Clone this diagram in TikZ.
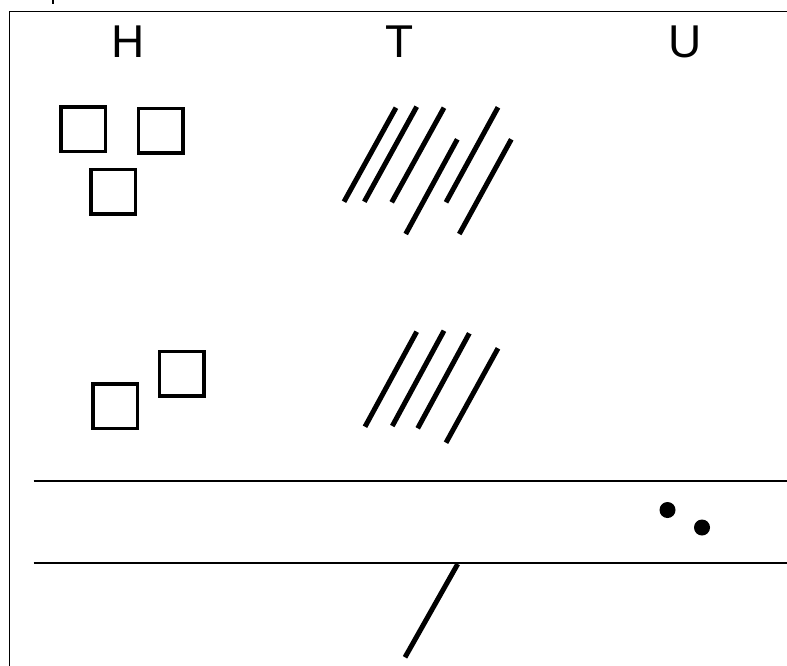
\documentclass[tikz,border=0pt]{standalone}
\usepackage{fontspec}
\setmainfont{Liberation Sans}
\begin{document}
\begin{tikzpicture}[x=1pt,y=-1pt,
  sq/.style={draw,line width=3.6pt,minimum size=44.4pt,inner sep=0pt,fill=white},
  tally/.style={line width=5pt},
  rule/.style={line width=2.5pt},
  frame/.style={line width=1.8pt},
  dot/.style={fill=black},
  head/.style={anchor=base,font=\fontsize{46}{46}\selectfont,inner sep=0pt}]
\useasboundingbox (0,0) rectangle (787,665);
% frame
\draw[frame] (9.5,680) -- (9.5,11.5) -- (800,11.5);
% cut fragment at top-left
\draw[line width=2pt] (53,-2) -- (53,4);
% headers
\node[head] (hH) at (127.7,57) {H};
\node[head] (hT) at (400,57) {T};
\node[head] (hU) at (685,57) {U};
% squares
\node[sq] (s1) at (83.3,129.2) {};
\node[sq] (s2) at (160.8,130.8) {};
\node[sq] (s3) at (113.2,191.5) {};
\node[sq] (s4) at (115.2,406.2) {};
\node[sq] (s5) at (181.8,373.8) {};
% tallies upper
\draw[tally] (396,107.7) -- (344,201.7);
\draw[tally] (416.7,106.7) -- (364.3,201.7);
\draw[tally] (444,107.7) -- (391.7,202.3);
\draw[tally] (457.3,139.3) -- (405.7,234);
\draw[tally] (498,107.3) -- (446,202.3);
\draw[tally] (511.3,139.3) -- (459.3,234);
% tallies lower
\draw[tally] (416.7,331.7) -- (365,426.7);
\draw[tally] (444,330.7) -- (392.3,426);
\draw[tally] (469.3,333.3) -- (417.7,428.3);
\draw[tally] (498,348.3) -- (446,442.7);
% rules
\draw[rule] (33.5,481) -- (800,481);
\draw[rule] (33.5,563) -- (800,563);
% dots
\fill[dot] (667.5,510) circle (8);
\fill[dot] (702,527.5) circle (8);
% bottom stroke
\draw[tally] (457.7,564) -- (405,657.3);
\end{tikzpicture}
\end{document}
